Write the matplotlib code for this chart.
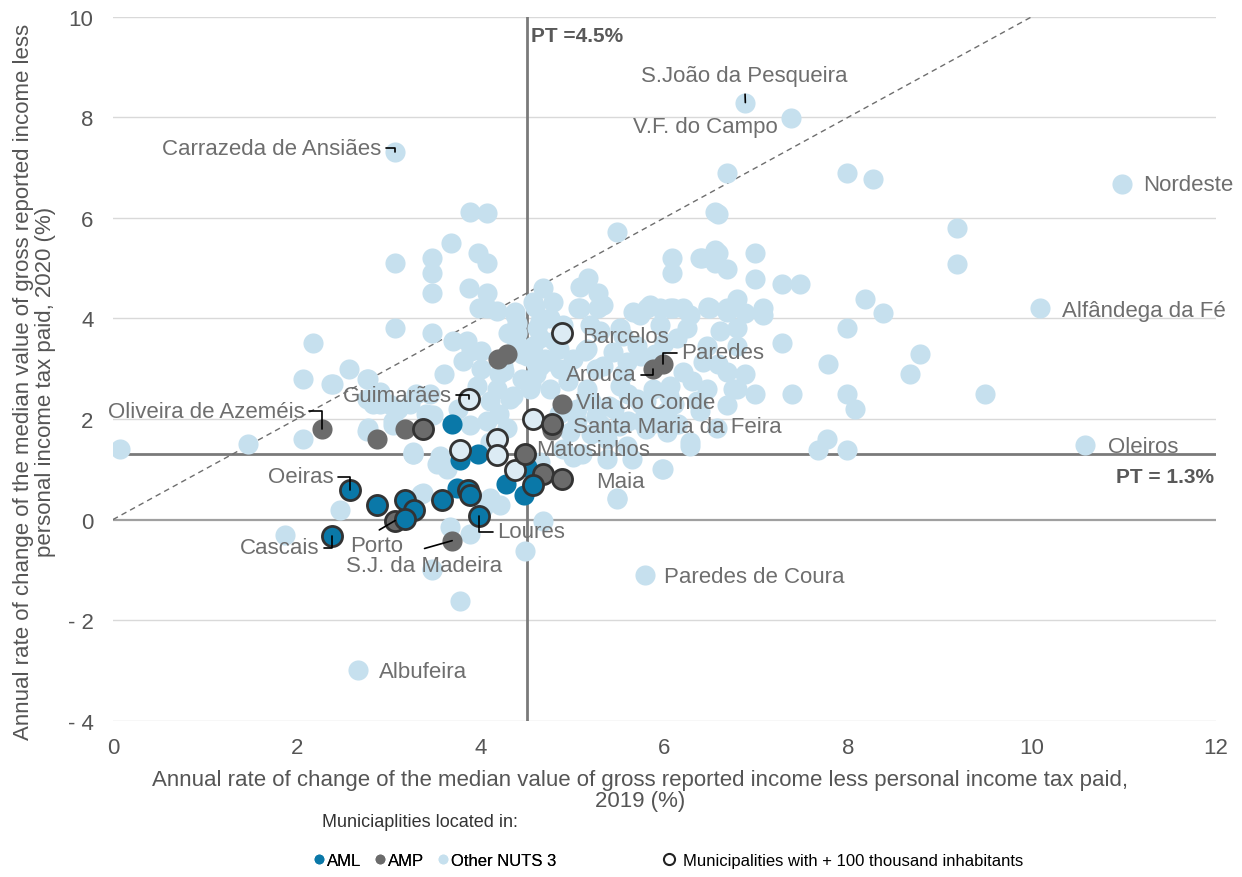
import matplotlib
matplotlib.use("Agg")
import matplotlib.pyplot as plt
from matplotlib.lines import Line2D

plt.rcParams['font.family'] = ['Liberation Sans', 'DejaVu Sans']

# ---------------- data ----------------
# Other NUTS 3 municipalities (x = 2019 rate, y = 2020 rate)
other_x = [0.08, 1.47, 1.87, 2.07, 2.18, 2.07, 2.37, 2.47, 2.57, 2.67, 2.76, 2.76, 2.76, 2.90, 3.05,
           3.07, 3.07, 3.07, 3.00, 3.26, 3.10, 3.30, 3.40, 3.47, 3.47, 3.47, 3.47, 3.47, 3.35, 3.45,
           2.39, 2.77, 3.81, 4.07, 4.24, 4.37, 4.37, 3.96, 4.18, 4.10, 4.32, 3.45, 3.05, 2.77, 3.26,
           3.56, 2.90, 2.83, 3.23, 3.88, 4.07, 4.29, 3.63, 3.68, 3.88, 4.07, 3.97, 4.07, 3.87, 4.07,
           3.98, 4.18, 4.37, 4.68, 4.59, 4.75, 5.08, 5.17, 5.28, 5.28, 5.08, 5.48, 5.66, 5.81, 5.95,
           6.09, 6.20, 6.08, 6.08, 6.39, 6.55, 6.55, 6.55, 6.47, 4.61, 5.14, 5.73, 4.57, 4.79, 5.06,
           5.33, 5.84, 6.06, 6.28, 6.50, 6.68, 4.65, 4.90, 5.19, 5.52, 5.95, 6.25, 6.60, 4.57, 5.16,
           5.44, 5.70, 6.14, 6.46, 4.65, 4.86, 5.33, 5.59, 6.20, 6.42, 6.68, 4.54, 4.75, 5.16, 5.52,
           5.88, 6.06, 6.46, 6.75, 5.05, 5.81, 6.03, 6.39, 6.68, 4.97, 5.38, 6.03, 6.28, 6.57, 5.98,
           4.65, 5.59, 6.58, 9.18, 9.18, 6.58, 6.99, 6.68, 6.99, 7.28, 7.48, 6.41, 6.47, 6.68, 6.79,
           6.88, 7.07, 7.07, 8.18, 8.38, 7.99, 6.79, 6.79, 7.28, 6.58, 6.88, 7.78, 8.78, 8.67, 6.79,
           6.99, 7.39, 7.99, 8.07, 9.49, 6.68, 7.99, 8.27, 10.98, 6.88, 7.38, 10.09, 10.58, 7.77, 7.67,
           7.99, 5.97, 5.48, 5.79, 4.48, 3.78, 3.47, 3.88, 4.68, 3.67, 5.38, 6.28, 3.26, 3.52, 3.37,
           4.10, 4.21, 4.03, 3.48, 5.48, 4.40, 4.45, 4.60, 4.80, 5.00, 5.25, 5.55, 5.75, 4.45, 4.70,
           4.95, 5.20, 5.45, 5.70, 5.90, 4.30, 4.50, 4.85, 5.30, 5.60, 5.85, 6.10, 4.90, 5.10, 5.35,
           5.65, 6.15, 4.60, 4.40, 3.70, 3.90, 4.00, 4.20, 5.20, 5.00, 5.80, 6.35, 6.00, 3.60, 3.75,
           4.35, 4.55, 4.75, 4.95, 5.15, 5.40, 5.60, 5.80, 6.05, 6.30, 5.05, 5.25, 5.50, 5.75, 5.95,
           4.25, 4.45, 4.65, 4.85, 5.30, 5.55, 5.75, 4.20, 4.00, 3.85, 4.10]
other_y = [1.40, 1.50, -0.30, 2.80, 3.50, 1.60, 2.70, 0.18, 3.00, -3.00, 2.80, 2.40, 1.77, 2.30, 1.87,
           7.30, 5.10, 3.80, 2.30, 1.31, 2.20, 2.50, 2.10, 5.20, 4.90, 4.50, 3.70, -0.99, 0.50, 2.50,
           2.70, 2.80, 3.16, 4.20, 3.06, 4.06, 3.60, 2.66, 2.60, 2.35, 2.40, 2.07, 1.95, 1.81, 1.35,
           1.27, 2.54, 2.30, 2.30, 1.87, 1.95, 1.81, 1.01, 5.50, 6.12, 6.10, 5.30, 5.10, 4.60, 4.50,
           4.20, 4.15, 4.13, 4.60, 4.23, 4.00, 4.63, 4.80, 4.50, 4.20, 4.20, 5.72, 4.13, 4.20, 4.20,
           4.20, 4.20, 5.19, 4.90, 5.19, 5.35, 5.10, 6.12, 4.23, 3.80, 3.36, 4.06, 4.33, 4.33, 4.20,
           4.26, 4.26, 4.20, 4.06, 4.20, 4.13, 3.94, 3.86, 3.86, 3.80, 3.86, 3.80, 3.74, 3.46, 3.40,
           3.34, 3.46, 3.60, 3.46, 3.06, 3.00, 3.06, 3.14, 2.94, 3.14, 2.94, 2.60, 2.60, 2.60, 2.66,
           2.60, 2.66, 2.60, 2.60, 2.20, 2.07, 2.15, 2.15, 2.27, 1.75, 1.61, 1.75, 1.55, 1.81, 1.01,
           1.15, 1.47, 6.08, 5.79, 5.09, 5.29, 5.29, 4.99, 4.79, 4.69, 4.69, 5.19, 4.20, 4.20, 4.39,
           4.10, 4.20, 4.06, 4.39, 4.10, 3.80, 3.80, 3.46, 3.50, 3.10, 2.90, 3.10, 3.30, 2.90, 2.60,
           2.50, 2.50, 2.50, 2.20, 2.50, 6.88, 6.88, 6.78, 6.68, 8.29, 7.99, 4.20, 1.49, 1.61, 1.39,
           1.39, 1.01, 0.42, -1.11, -0.62, -1.61, -1.01, -0.28, -0.02, -0.14, 1.21, 1.47, 1.31, 1.11, 0.52,
           0.42, 0.28, 0.22, 2.07, 0.40, 3.90, 3.40, 2.90, 3.55, 3.20, 3.00, 2.90, 2.30, 2.80, 3.20,
           2.75, 2.35, 2.20, 2.40, 3.30, 3.70, 3.25, 2.10, 1.90, 1.95, 1.90, 2.30, 1.40, 1.30, 1.70,
           1.20, 1.90, 3.10, 3.70, 3.55, 3.35, 3.00, 2.10, 1.70, 1.25, 1.80, 2.35, 3.50, 2.90, 2.20,
           2.45, 2.70, 3.15, 2.85, 2.45, 2.25, 2.50, 2.35, 2.45, 2.75, 1.95, 2.05, 1.85, 1.95, 2.05,
           2.95, 3.30, 3.60, 3.40, 3.75, 3.65, 3.25, 2.90, 3.35, 3.55, 1.55]

# Lisbon Metropolitan Area (AML)
aml_x = [3.69, 3.78, 3.97, 4.28, 4.47, 4.50, 3.74]
aml_y = [1.90, 1.18, 1.30, 0.70, 0.48, 1.05, 0.62]
aml_big_x = [2.58, 2.87, 3.18, 3.28, 3.18, 2.38, 3.58, 3.86, 3.88, 3.98, 4.57]
aml_big_y = [0.58, 0.28, 0.38, 0.18, 0.02, -0.32, 0.38, 0.58, 0.48, 0.08, 0.68]

# Porto Metropolitan Area (AMP)
amp_x = [2.27, 2.87, 3.18, 4.19, 4.29, 5.88, 5.98, 4.89, 3.69, 4.78]
amp_y = [1.80, 1.60, 1.80, 3.20, 3.30, 3.00, 3.10, 2.30, -0.42, 1.78]
amp_big_x = [3.07, 4.48, 4.68, 4.89, 4.78, 3.37]
amp_big_y = [-0.02, 1.30, 0.90, 0.80, 1.90, 1.80]

# Other NUTS 3 with + 100 thousand inhabitants
big_x = [3.87, 4.89, 3.78, 4.18, 4.18, 4.37, 4.57]
big_y = [2.40, 3.70, 1.39, 1.61, 1.29, 0.98, 2.00]

pt_2019 = 4.5
pt_2020 = 1.3
diag = [0, 10]

# labels: (text, point x, point y, text x, text y, ha, leader style, leader start in text box)
labels = [
    ("Carrazeda de Ansiães", 3.07, 7.30, 2.92, 7.38, "right", "elbow", None),
    ("S.João da Pesqueira", 6.88, 8.29, 6.87, 8.83, "center", "vline", None),
    ("V.F. do Campo", 7.38, 7.99, 6.45, 7.81, "center", None, None),
    ("Nordeste", 10.98, 6.68, 11.21, 6.66, "left", None, None),
    ("Alfândega da Fé", 10.09, 4.20, 10.33, 4.16, "left", None, None),
    ("Oleiros", 10.58, 1.49, 10.83, 1.45, "left", None, None),
    ("Barcelos", 4.89, 3.70, 5.10, 3.64, "left", None, None),
    ("Paredes", 5.98, 3.10, 6.18, 3.32, "left", "elbow", None),
    ("Arouca", 5.88, 3.00, 5.70, 2.88, "right", "elbow", None),
    ("Vila do Conde", 4.89, 2.30, 5.04, 2.33, "left", None, None),
    ("Santa Maria da Feira", 4.78, 1.90, 5.00, 1.85, "left", None, None),
    ("Matosinhos", 4.48, 1.30, 4.60, 1.39, "left", None, None),
    ("Maia", 4.89, 0.80, 5.26, 0.76, "left", None, None),
    ("Loures", 3.98, 0.08, 4.18, -0.24, "left", "elbow", None),
    ("Porto", 3.07, -0.02, 2.58, -0.52, "left", "line", (0.55, 1.25)),
    ("S.J. da Madeira", 3.69, -0.42, 2.54, -0.91, "left", "line", (0.5, 1.3)),
    ("Cascais", 2.38, -0.32, 2.25, -0.56, "right", "elbow", None),
    ("Oeiras", 2.58, 0.58, 2.40, 0.85, "right", "elbow", None),
    ("Oliveira de Azeméis", 2.27, 1.80, 2.09, 2.15, "right", "elbow", None),
    ("Guimarães", 3.87, 2.40, 3.69, 2.47, "right", "elbow", None),
    ("Paredes de Coura", 5.79, -1.11, 6.00, -1.13, "left", None, None),
    ("Albufeira", 2.67, -3.00, 2.89, -3.02, "left", None, None),
]

# ---------------- style ----------------
c_aml = "#0a78a8"
c_amp = "#6b6b6b"
c_oth = "#c6e0ee"
c_big_face = "#dcebf4"
c_edge = "#333333"
c_txt = "#6e6e6e"
msize = 210

fig = plt.figure(figsize=(12.42, 8.78), dpi=100)
ax = fig.add_axes([0.091, 0.178, 0.888, 0.802])

ax.set_xlim(0, 12)
ax.set_ylim(-4, 10)
yt = [-4, -2, 0, 2, 4, 6, 8, 10]
ax.set_yticks(yt)
ax.set_yticklabels(["- 4", "- 2", "0", "2", "4", "6", "8", "10"])
ax.set_xticks([0, 2, 4, 6, 8, 10, 12])
ax.tick_params(length=0, labelsize=16, labelcolor="#555555")
ax.tick_params(axis="y", pad=14)
ax.tick_params(axis="x", pad=12)
for s in ax.spines.values():
    s.set_visible(False)
for v in yt:
    if v != 0:
        ax.axhline(v, color="#d9d9d9", lw=1, zorder=0)
ax.axhline(0, color="#a0a0a0", lw=1.6, zorder=0.5)
ax.axhline(pt_2020, color="#7a7a7a", lw=2, zorder=0.6)
ax.axvline(pt_2019, color="#7a7a7a", lw=2, zorder=0.6)
ax.plot(diag, diag, ls=(0, (4, 3)), color="#6e6e6e", lw=1, zorder=0.7)

ax.scatter(other_x, other_y, s=msize, color=c_oth, lw=0, zorder=2)
ax.scatter(aml_x, aml_y, s=msize, color=c_aml, lw=0, zorder=3)
ax.scatter(amp_x, amp_y, s=msize, color=c_amp, lw=0, zorder=3)
ax.scatter(big_x, big_y, s=msize, facecolor=c_big_face, edgecolor=c_edge, lw=2, zorder=4)
ax.scatter(amp_big_x, amp_big_y, s=msize, facecolor=c_amp, edgecolor=c_edge, lw=2, zorder=4)
ax.scatter(aml_big_x, aml_big_y, s=msize, facecolor=c_aml, edgecolor=c_edge, lw=2, zorder=4)

for txt, px, py, tx, ty, ha, lead, rp in labels:
    kw = dict(ha=ha, va="center", fontsize=16, color=c_txt, zorder=6)
    if lead == "elbow":
        ax.annotate(txt, xy=(px, py), xytext=(tx, ty), **kw,
                    arrowprops=dict(arrowstyle="-", color="black", lw=1.2, shrinkA=1, shrinkB=0,
                                    connectionstyle="angle,angleA=0,angleB=90,rad=0"))
    elif lead == "vline":
        ax.annotate(txt, xy=(px, py), xytext=(tx, ty), **kw,
                    arrowprops=dict(arrowstyle="-", color="black", lw=1.2, shrinkA=4, shrinkB=0))
    elif lead == "line":
        ax.annotate(txt, xy=(px, py), xytext=(tx, ty), **kw,
                    arrowprops=dict(arrowstyle="-", color="black", lw=1.2, shrinkA=0, shrinkB=0,
                                    relpos=rp, patchA=None))
    else:
        ax.text(tx, ty, txt, **kw)

ax.text(11.98, 0.85, "PT = 1.3%", ha="right", va="center", fontsize=15, fontweight="bold",
        color="#595959", zorder=6)
ax.text(4.55, 9.62, "PT =4.5%", ha="left", va="center", fontsize=15, fontweight="bold",
        color="#595959", zorder=6)

fig.text(0.515, 0.099,
         "Annual rate of change of the median value of gross reported income less personal income tax paid,\n2019 (%)",
         ha="center", va="center", fontsize=16, color="#555555", linespacing=1.05)
fig.text(0.028, 0.565,
         "Annual rate of change of the median value of gross reported income less\npersonal income tax paid, 2020 (%)",
         ha="center", va="center", rotation=90, fontsize=16, color="#555555", linespacing=1.05)

narrow = ["Liberation Sans Narrow", "Liberation Sans", "DejaVu Sans"]
fig.text(0.338, 0.063, "Municiaplities located in:", ha="center", va="center", fontsize=13,
         color="#333333", family=narrow)

h1 = [Line2D([], [], marker="o", ls="", color=c_aml, markersize=6),
      Line2D([], [], marker="o", ls="", color=c_amp, markersize=6),
      Line2D([], [], marker="o", ls="", color=c_oth, markersize=6)]
leg1 = fig.legend(h1, ["AML", "AMP", "Other NUTS 3"], loc="center left", ncol=3,
                  bbox_to_anchor=(0.238, 0.019), frameon=False, handletextpad=0.0,
                  columnspacing=0.6, handlelength=1.0, prop={"family": narrow, "size": 12})
h2 = [Line2D([], [], marker="o", ls="", markerfacecolor="white", markeredgecolor="#222222",
             markeredgewidth=1.5, markersize=8)]
leg2 = fig.legend(h2, ["Municipalities with + 100 thousand inhabitants"], loc="center left",
                  bbox_to_anchor=(0.52, 0.019), frameon=False, handletextpad=0.3,
                  handlelength=1.0, prop={"family": narrow, "size": 12})
fig.add_artist(leg1)

fig.savefig("out.png", dpi=100)
